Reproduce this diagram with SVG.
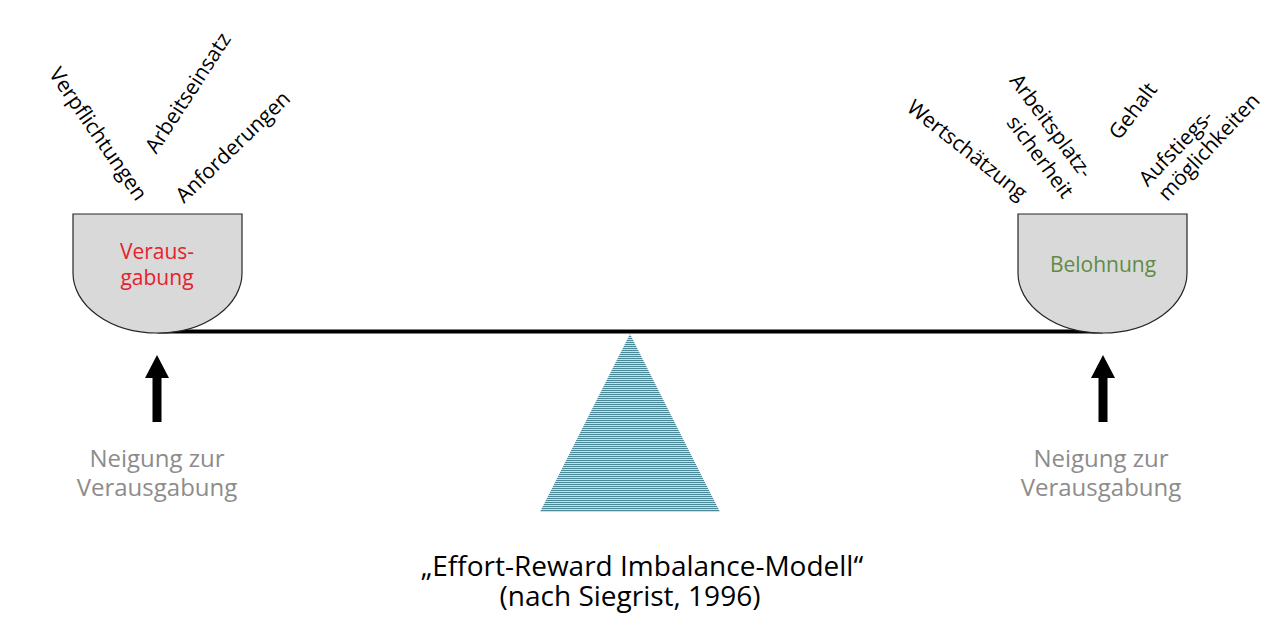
<svg xmlns="http://www.w3.org/2000/svg" width="1280" height="643" viewBox="0 0 1280 643">
<defs>
<style>
text{font-family:"Open Sans","Noto Sans","DejaVu Sans",sans-serif;}
.lbl{font-size:21px;fill:#000;text-anchor:middle;}
.bowl{fill:#d9d9d9;stroke:#262626;stroke-width:1.2;}
.gray{font-size:24px;fill:#8c8c8c;text-anchor:middle;}
.title{font-size:28px;fill:#000;text-anchor:middle;}
.arrow{fill:#000;}
</style>
<pattern id="hl" width="4" height="2" patternUnits="userSpaceOnUse">
<rect width="4" height="2" fill="#dbe9ec"/>
<rect width="4" height="1.1" fill="#4a8898"/>
</pattern>
</defs>
<rect width="1280" height="643" fill="#fff"/>

<g id="connectors">
<line x1="157" y1="331.5" x2="1103" y2="331.5" stroke="#000" stroke-width="4"/>
</g>

<g id="fulcrum">
<polygon points="630,334 540,512 720,512" fill="url(#hl)"/>
</g>

<g id="bowl-left">
<path class="bowl" d="M73,214 H242 V273 A84.5,60 0 0 1 73,273 Z"/>
<text x="157" y="259" font-size="21" fill="#e6212b" text-anchor="middle">Veraus-</text>
<text x="157" y="285" font-size="21" fill="#e6212b" text-anchor="middle">gabung</text>
</g>

<g id="bowl-right">
<path class="bowl" d="M1018,214 H1187 V273 A84.5,60 0 0 1 1018,273 Z"/>
<text x="1103" y="272" font-size="21" fill="#5e8c45" text-anchor="middle">Belohnung</text>
</g>

<g id="left-items">
<text class="lbl" transform="translate(98,134) rotate(55.5)" y="7">Verpflichtungen</text>
<text class="lbl" transform="translate(188,93) rotate(-57)" y="7">Arbeitseinsatz</text>
<text class="lbl" transform="translate(233,147) rotate(-44)" y="7">Anforderungen</text>
</g>

<g id="right-items">
<text class="lbl" transform="translate(967,150) rotate(38.5)" y="7">Wertschätzung</text>
<text class="lbl" transform="translate(1051,126) rotate(53.5)" y="7">Arbeitsplatz-</text>
<text class="lbl" transform="translate(1040,157) rotate(53.5)" y="7">sicherheit</text>
<text class="lbl" transform="translate(1133,111) rotate(-53)" y="7">Gehalt</text>
<text class="lbl" transform="translate(1176,148) rotate(-46)" y="7">Aufstiegs-</text>
<text class="lbl" transform="translate(1209,147) rotate(-47)" y="7">möglichkeiten</text>
</g>

<g id="arrow-left">
<polygon class="arrow" points="157,355 169,378 161.5,378 161.5,422 152.5,422 152.5,378 145,378"/>
<text class="gray" x="157" y="467">Neigung zur</text>
<text class="gray" x="157" y="496">Verausgabung</text>
</g>

<g id="arrow-right">
<polygon class="arrow" points="1103,355 1115,378 1107.5,378 1107.5,422 1098.5,422 1098.5,378 1091,378"/>
<text class="gray" x="1101" y="467">Neigung zur</text>
<text class="gray" x="1101" y="496">Verausgabung</text>
</g>

<g id="title">
<text class="title" x="642" y="576">„Effort-Reward Imbalance-Modell“</text>
<text class="title" x="630" y="606">(nach Siegrist, 1996)</text>
</g>
</svg>
